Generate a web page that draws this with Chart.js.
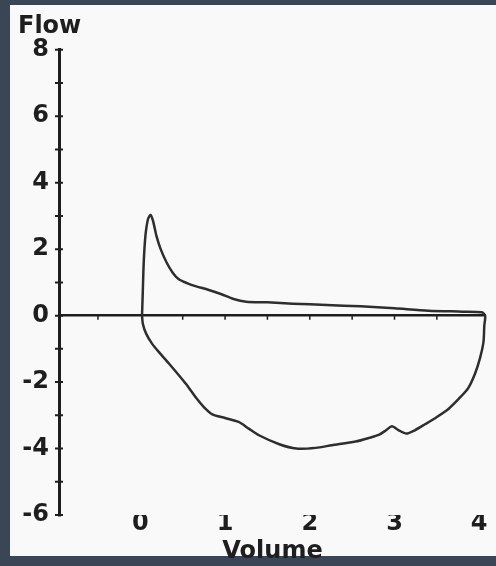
<!DOCTYPE html>
<html>
<head>
<meta charset="utf-8">
<script src="https://cdn.jsdelivr.net/npm/chart.js@4"></script>
<style>
  html, body { margin: 0; padding: 0; background: #3a4656; overflow: hidden; }
  #panel { position: absolute; left: 10px; top: 5px; width: 486px; height: 551px; background: #f9f9f9; }
  #c { position: absolute; left: 0; top: 0; }
</style>
</head>
<body>
<div id="panel"></div>
<canvas id="c" width="496" height="566"></canvas>
<script>
/* ── Data ─────────────────────────────────────────────── */
// flow-volume loop: expiration on top, inspiration below
const volume = [
  0.02, 0.03, 0.04, 0.06, 0.09, 0.12, 0.15, 0.19, 0.24, 0.31, 0.38, 0.45, 0.55, 0.66, 0.80,
  0.95, 1.10, 1.25, 1.50, 1.80, 2.20, 2.60, 3.00, 3.40, 3.80, 4.03,
  4.07, 4.06, 4.05, 4.01, 3.95, 3.87, 3.76, 3.64, 3.50, 3.36, 3.24, 3.14, 3.05, 2.97, 2.90,
  2.82, 2.70, 2.54, 2.26, 2.07, 1.84, 1.64, 1.40, 1.28, 1.16, 1.00, 0.85, 0.75, 0.66, 0.54,
  0.44, 0.34, 0.22, 0.14, 0.07, 0.03, 0.02
];
const flow = [
  0.00, 0.80, 1.60, 2.40, 2.90, 3.03, 2.85, 2.40, 2.00, 1.60, 1.30, 1.10, 0.98, 0.88, 0.78,
  0.65, 0.50, 0.42, 0.40, 0.36, 0.32, 0.28, 0.22, 0.15, 0.12, 0.10,
  0.00, -0.30, -0.80, -1.27, -1.75, -2.18, -2.50, -2.80, -3.05, -3.27, -3.45, -3.55, -3.45, -3.33, -3.45,
  -3.58, -3.68, -3.79, -3.90, -3.98, -4.00, -3.87, -3.60, -3.40, -3.20, -3.08, -2.97, -2.75, -2.48, -2.06,
  -1.75, -1.45, -1.10, -0.85, -0.55, -0.25, 0.00
];
const xTicks = [0, 1, 2, 3, 4];
const yTickMarks = [-6, -5, -4, -3, -2, -1, 0, 1, 2, 3, 4, 5, 6, 7, 8];
const xMinorMarks = [-0.5, 0.5, 1, 1.5, 2, 2.5, 3, 3.5];

const INK = '#1e1e1e';
const FONT = { family: "'DejaVu Sans', sans-serif", weight: 'bold', size: 24 };

/* ── Axis marks: short ticks crossing the axes ─────────── */
const axisMarks = {
  id: 'axisMarks',
  afterDraw(chart) {
    const { ctx, scales: { x, y } } = chart;
    const ax = x.left;
    const zero = y.getPixelForValue(0);
    ctx.save();
    ctx.strokeStyle = INK;
    ctx.lineWidth = 2;
    ctx.beginPath();
    yTickMarks.forEach(v => {
      const py = y.getPixelForValue(v);
      ctx.moveTo(ax - 4, py);
      ctx.lineTo(ax + 4, py);
    });
    ctx.stroke();
    ctx.lineWidth = 1.5;
    ctx.beginPath();
    xMinorMarks.forEach(v => {
      const px = x.getPixelForValue(v);
      ctx.moveTo(px, zero);
      ctx.lineTo(px, zero + 4);
    });
    ctx.stroke();
    ctx.restore();
  }
};

/* ── Chart ────────────────────────────────────────────── */
new Chart(document.getElementById('c'), {
  type: 'scatter',
  data: {
    datasets: [{
      data: volume.map((v, i) => ({ x: v, y: flow[i] })),
      showLine: true,
      borderColor: '#2e2e2e',
      borderWidth: 2.5,
      pointRadius: 0,
      tension: 0.25,
      clip: false,
    }]
  },
  options: {
    responsive: false,
    animation: false,
    devicePixelRatio: 1,
    layout: { padding: { left: 18, right: 10, top: 0, bottom: 0 } },
    plugins: {
      legend: { display: false },
      tooltip: { enabled: false },
      title: {
        display: true,
        text: 'Flow',
        align: 'start',
        color: INK,
        font: FONT,
        padding: { top: 12, bottom: 9 },
      },
    },
    scales: {
      x: {
        type: 'linear',
        min: -0.96,
        max: 4.08,
        afterBuildTicks: s => { s.ticks = xTicks.map(v => ({ value: v })); },
        afterFit: s => { s.height = 51; },
        grid: { display: false, drawTicks: false },
        border: { display: false },
        ticks: { color: INK, font: FONT, padding: -6, maxRotation: 0 },
        title: { display: true, text: 'Volume', color: INK, font: FONT, padding: { top: -4, bottom: 0 } },
      },
      y: {
        type: 'linear',
        min: -6,
        max: 8,
        afterFit: s => { s.width = 41; },
        grid: {
          drawTicks: false,
          color: c => c.tick && c.tick.value === 0 ? INK : 'transparent',
          lineWidth: 2.5,
        },
        border: { display: true, color: INK, width: 3 },
        ticks: {
          stepSize: 1,
          color: INK,
          font: FONT,
          padding: 10,
          callback: v => (v % 2 === 0 ? String(v) : ''),
        },
      },
    },
  },
  plugins: [axisMarks],
});
</script>
</body>
</html>
